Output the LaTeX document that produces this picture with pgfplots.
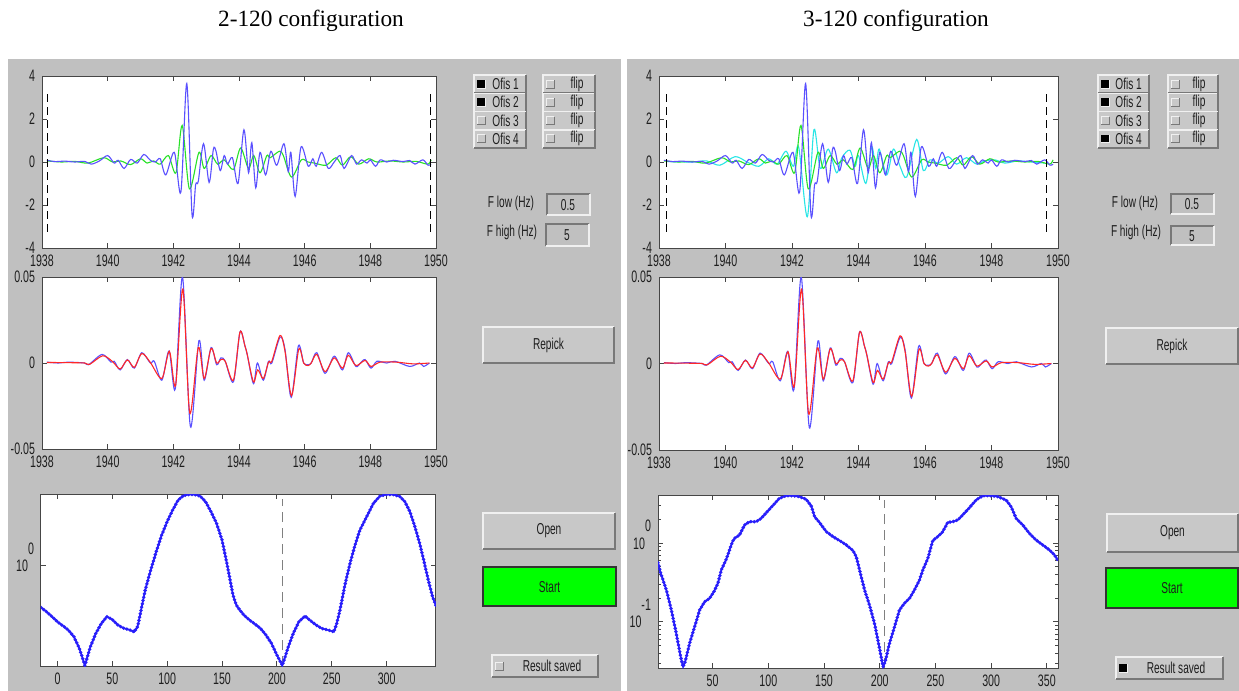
\documentclass[border=0pt]{standalone}
\usepackage{fontspec}
\usepackage{pgfplots}
\pgfplotsset{compat=1.18}
\usepackage{pgfplotstable}
\setmainfont{Liberation Serif}
\newfontfamily\guifont[FakeStretch=0.64]{Liberation Sans}
\newcommand\gs{\fontsize{7.9}{9}\selectfont\guifont}
\newcommand\ts{\fontsize{8.3}{9.5}\selectfont\guifont}
\definecolor{guibg}{RGB}{192,192,192}
\definecolor{btnface}{RGB}{200,200,200}
\definecolor{btnlight}{RGB}{240,240,240}
\definecolor{btndark}{RGB}{120,120,120}
\definecolor{axc}{RGB}{70,70,70}
\definecolor{txc}{RGB}{30,30,30}
\definecolor{tblue}{RGB}{90,80,255}
\definecolor{tgreen}{RGB}{40,225,40}
\definecolor{tcyan}{RGB}{40,230,230}
\definecolor{tred}{RGB}{255,40,40}
\definecolor{dblue}{RGB}{40,30,250}
\definecolor{startgreen}{RGB}{0,255,0}

\pgfplotstableread{
x y
1938.15 0.08
1938.40 0.02
1938.70 0.04
1939.00 0.00
1939.30 0.03
1939.50 -0.10
1939.75 0.05
1940.00 0.30
1940.20 -0.05
1940.32 0.08
1940.50 -0.30
1940.70 0.12
1940.90 -0.05
1941.10 0.35
1941.30 0.08
1941.45 0.00
1941.60 0.15
1941.77 -0.60
1942.03 0.45
1942.23 -1.40
1942.41 3.65
1942.57 -2.45
1942.68 -1.05
1942.76 -0.90
1942.92 0.85
1943.09 -0.95
1943.22 0.60
1943.30 0.50
1943.43 -0.40
1943.55 0.30
1943.65 -0.10
1943.80 0.20
1943.97 -1.00
1944.15 1.50
1944.29 -0.50
1944.39 0.90
1944.51 -1.20
1944.64 0.45
1944.81 -0.60
1944.97 0.50
1945.15 -0.15
1945.37 0.85
1945.50 -0.45
1945.58 0.45
1945.71 -1.60
1945.89 0.70
1946.11 -0.20
1946.25 0.15
1946.35 -0.20
1946.52 0.45
1946.72 -0.30
1946.90 0.00
1947.08 0.30
1947.20 -0.30
1947.43 0.30
1947.58 -0.10
1947.73 0.10
1947.90 -0.05
1948.00 0.10
1948.16 -0.20
1948.30 0.10
1948.50 0.00
1948.70 0.08
1949.00 0.02
1949.20 0.07
1949.36 -0.10
1949.60 0.10
1949.76 -0.15
1949.85 -0.10
}\bluetop

\pgfplotstableread{
x y
1938.15 0.05
1938.60 0.00
1939.00 0.03
1939.40 -0.05
1939.88 0.20
1940.15 0.00
1940.40 0.05
1940.70 -0.12
1941.00 0.15
1941.20 -0.05
1941.40 0.05
1941.60 -0.10
1941.85 0.30
1942.08 -0.50
1942.27 1.70
1942.49 -1.25
1942.78 0.45
1942.94 -0.30
1943.15 0.30
1943.35 -0.10
1943.55 0.10
1943.83 -0.35
1944.05 0.65
1944.29 -0.30
1944.45 0.30
1944.64 -0.50
1944.85 0.30
1944.95 0.20
1945.23 0.50
1945.35 0.30
1945.60 -0.70
1945.90 0.10
1946.10 0.00
1946.30 -0.05
1946.65 -0.15
1946.95 0.20
1947.15 -0.15
1947.40 0.25
1947.65 -0.10
1947.95 0.15
1948.20 0.00
1948.60 0.05
1949.00 0.00
1949.40 0.03
1949.75 -0.10
1949.85 0.10
}\greentop

\pgfplotstableread{
x y
1938.25 0.02
1939.00 0.00
1939.43 0.05
1939.83 -0.15
1940.29 0.25
1940.65 0.00
1941.00 -0.20
1941.30 0.15
1941.55 -0.10
1941.82 0.50
1942.04 -0.20
1942.20 0.70
1942.46 -2.55
1942.66 1.50
1942.85 -0.30
1943.09 0.60
1943.34 -0.50
1943.50 0.20
1943.74 0.55
1943.90 -0.20
1944.00 0.30
1944.22 -1.00
1944.40 0.70
1944.52 -0.30
1944.62 0.60
1944.85 -0.60
1945.05 0.60
1945.25 -0.20
1945.45 -0.70
1945.75 1.05
1945.95 -0.40
1946.15 0.10
1946.40 -0.05
1946.70 0.25
1946.95 -0.10
1947.25 0.20
1947.55 -0.10
1947.80 0.05
1948.10 0.10
1948.40 -0.05
1948.80 0.05
1949.20 0.00
1949.60 -0.05
}\cyantop

\pgfplotstableread{
x y
1938.15 0.0005
1938.50 0.0000
1938.80 0.0005
1939.30 0.0000
1939.42 -0.0010
1939.83 0.0050
1940.10 0.0005
1940.20 0.0010
1940.38 -0.0040
1940.60 0.0020
1940.81 -0.0030
1941.04 0.0060
1941.30 0.0000
1941.42 0.0010
1941.65 -0.0100
1941.87 0.0070
1942.06 -0.0150
1942.28 0.0500
1942.52 -0.0370
1942.78 0.0130
1942.94 -0.0100
1943.15 0.0090
1943.32 -0.0010
1943.45 0.0030
1943.58 0.0010
1943.83 -0.0110
1944.03 0.0180
1944.18 0.0100
1944.25 0.0050
1944.44 -0.0120
1944.56 0.0000
1944.74 -0.0100
1944.90 0.0010
1945.00 0.0000
1945.25 0.0150
1945.40 0.0080
1945.59 -0.0200
1945.81 0.0100
1945.97 0.0000
1946.10 -0.0010
1946.20 0.0000
1946.37 0.0060
1946.62 -0.0060
1946.90 0.0040
1947.15 -0.0040
1947.33 0.0060
1947.56 -0.0020
1947.70 0.0000
1947.84 0.0020
1948.02 -0.0030
1948.20 0.0010
1948.50 0.0000
1948.75 0.0010
1949.20 -0.0020
1949.50 0.0000
1949.62 -0.0020
1949.80 0.0000
}\bluemid

\pgfplotstableread{
x y
1938.15 0.0003
1938.80 0.0002
1939.30 0.0000
1939.45 -0.0008
1939.85 0.0042
1940.15 0.0008
1940.38 -0.0035
1940.60 0.0018
1940.81 -0.0025
1941.04 0.0055
1941.30 0.0003
1941.65 -0.0090
1941.88 0.0068
1942.07 -0.0130
1942.29 0.0430
1942.50 -0.0290
1942.76 0.0090
1942.94 -0.0090
1943.15 0.0085
1943.32 0.0000
1943.45 0.0020
1943.58 0.0010
1943.83 -0.0100
1944.03 0.0180
1944.18 0.0100
1944.25 0.0050
1944.44 -0.0110
1944.57 -0.0040
1944.74 -0.0090
1944.90 0.0005
1945.00 0.0010
1945.25 0.0160
1945.40 0.0070
1945.60 -0.0190
1945.82 0.0080
1945.97 0.0000
1946.10 -0.0015
1946.20 0.0000
1946.37 0.0050
1946.62 -0.0050
1946.90 0.0030
1947.15 -0.0030
1947.33 0.0045
1947.56 -0.0015
1947.84 0.0015
1948.02 -0.0020
1948.30 0.0005
1948.80 0.0005
1949.30 -0.0005
1949.80 0.0000
}\redmid

\pgfplotstableread{
x y
-15 -0.145
-10 -0.160
-5 -0.177
0 -0.195
5 -0.209
10 -0.224
15 -0.247
20 -0.288
25 -0.347
30 -0.282
35 -0.235
40 -0.201
45 -0.177
50 -0.187
55 -0.206
60 -0.217
65 -0.222
70 -0.230
73 -0.212
75 -0.177
80 -0.084
85 -0.015
90 0.049
95 0.107
100 0.154
105 0.194
110 0.229
115 0.245
120 0.248
125 0.248
130 0.243
135 0.223
140 0.188
145 0.148
150 0.090
155 -0.003
160 -0.102
163 -0.137
165 -0.148
170 -0.172
175 -0.189
180 -0.203
185 -0.218
190 -0.241
195 -0.270
200 -0.311
205 -0.347
210.4 -0.282
215 -0.235
220 -0.195
225.6 -0.175
230 -0.189
235.6 -0.206
240.8 -0.218
246.9 -0.224
252 -0.230
254.5 -0.201
257.5 -0.154
262 -0.067
266.6 0.008
271.2 0.072
275.7 0.125
281.8 0.171
288 0.218
294 0.243
300 0.248
306 0.248
312 0.241
316.7 0.223
321.3 0.188
325.8 0.136
329.7 0.084
333.4 0.026
338 -0.050
341.9 -0.108
345 -0.140
}\botleft

\pgfplotstableread{
x y
1 -0.246
3 -0.360
8.5 -0.593
13 -0.847
17.4 -1.144
21.3 -1.440
23.5 -1.570
25.5 -1.500
29.4 -1.270
33.9 -1.060
38.4 -0.847
42.9 -0.742
47.3 -0.700
51.2 -0.614
54.8 -0.508
57.8 -0.339
62.3 -0.203
67.8 0.021
69.8 0.064
74.2 0.106
78.7 0.233
83.2 0.275
89.2 0.275
93.7 0.318
98.2 0.390
104 0.479
110 0.572
116 0.605
122 0.605
128 0.593
134 0.559
138.5 0.475
141.5 0.339
146 0.263
152 0.148
158 0.085
164 0.034
170 -0.021
176 -0.093
178.9 -0.169
181.9 -0.339
186.4 -0.593
190.8 -0.784
195.3 -1.017
199.8 -1.335
203 -1.570
205 -1.500
208.8 -1.270
213.3 -1.060
217.7 -0.847
222.2 -0.763
226.7 -0.700
231.2 -0.593
235.7 -0.466
238.7 -0.339
243.2 -0.191
247.6 0.034
252.1 0.085
256.6 0.148
261.1 0.267
265.6 0.275
270 0.297
274.5 0.360
280.5 0.453
286.5 0.550
292.5 0.605
300 0.605
306 0.593
313.4 0.550
317.9 0.466
322.4 0.318
328.4 0.233
334.3 0.127
340.3 0.042
346.3 -0.021
352.3 -0.085
356.8 -0.148
360 -0.220
}\botright

\pgfplotsset{
  mat/.style={scale only axis, anchor=north west,
    axis background/.style={fill=white},
    axis line style={draw=axc, line width=0.5pt},
    every tick/.style={draw=axc, line width=0.5pt},
    tick align=inside, major tick length=2.5pt, minor tick length=1.5pt,
    ticklabel style={font=\ts, text=txc},
    scaled ticks=false,
    clip=true},
  topax/.style={mat, xmin=1938, xmax=1950, ymin=-4, ymax=4,
    xtick={1938,1940,1942,1944,1946,1948,1950},
    xticklabels={1938,1940,1942,1944,1946,1948,1950},
    ytick={-4,-2,0,2,4}, yticklabels={-4,-2,0,2,4}},
  midax/.style={mat, xmin=1938, xmax=1950, ymin=-0.05, ymax=0.05,
    xtick={1938,1940,1942,1944,1946,1948,1950},
    xticklabels={1938,1940,1942,1944,1946,1948,1950},
    ytick={-0.05,0,0.05}, yticklabels={-0.05,0,0.05}},
  trace/.style={smooth, no marks, line width=0.55pt},
  dotline/.style={dblue, no marks, line width=0.8pt},
  dots/.style={dblue, no marks, line width=1.9pt, line cap=round, dash pattern=on 0pt off 1.7pt}
}

\newcommand\raised[4]{%
  \fill[btnface] (#1,#2) rectangle (#3,#4);
  \draw[btnlight,line width=0.7pt] (#1,#4) -- (#1,#2) -- (#3,#2);
  \draw[btndark,line width=0.7pt] (#1,#4) -- (#3,#4) -- (#3,#2);}
\newcommand\sunken[4]{%
  \fill[guibg] (#1,#2) rectangle (#3,#4);
  \draw[btndark,line width=0.7pt] (#1,#4) -- (#1,#2) -- (#3,#2);
  \draw[btnlight,line width=0.7pt] (#1,#4) -- (#3,#4) -- (#3,#2);}
\newcommand\chkoff[2]{%
  \fill[btnface] (#1,#2-4) rectangle (#1+8,#2+4);
  \draw[btnlight,line width=0.5pt] (#1,#2+4) -- (#1,#2-4) -- (#1+8,#2-4);
  \draw[btndark,line width=0.5pt] (#1,#2+4) -- (#1+8,#2+4) -- (#1+8,#2-4);}
\newcommand\chkon[2]{%
  \fill[black] (#1,#2-4) rectangle (#1+8,#2+4);
  \draw[btnlight,line width=0.5pt] (#1+8,#2-4) -- (#1+8,#2+4) -- (#1,#2+4);}

\begin{document}
\begin{tikzpicture}[x=0.5pt,y=-0.5pt]
\useasboundingbox (0,0) rectangle (1239,691);
\fill[white] (0,0) rectangle (1239,691);
\fill[guibg] (8,59) rectangle (621,691);
\fill[guibg] (627,59) rectangle (1239,691);
\node[anchor=base, font=\fontsize{11.65}{14}\selectfont] at (311,26.5) {2-120 configuration};
\node[anchor=base, font=\fontsize{11.65}{14}\selectfont] at (896,26.5) {3-120 configuration};

% ---------------- left panel axes
\begin{axis}[topax, at={(21pt,-38pt)}, width=197pt, height=86pt]
\addplot[trace, tgreen] table {\greentop};
\addplot[trace, tblue] table {\bluetop};
\addplot[black, line width=0.5pt, dash pattern=on 4pt off 2.5pt] coordinates {(1938.18,-3.25) (1938.18,3.25)};
\addplot[black, line width=0.5pt, dash pattern=on 4pt off 2.5pt] coordinates {(1949.82,-3.25) (1949.82,3.25)};
\end{axis}
\begin{axis}[midax, at={(21pt,-138.5pt)}, width=197pt, height=86pt]
\addplot[trace, tblue] table {\bluemid};
\addplot[trace, tred] table {\redmid};
\end{axis}
\begin{axis}[mat, at={(20.5pt,-247pt)}, width=197.5pt, height=86pt,
  xmin=-15, xmax=345, ymin=-0.349, ymax=0.25,
  xtick={0,50,100,150,200,250,300}, xticklabels={0,50,100,150,200,250,300},
  ytick={0}, yticklabels={10\smash{\raisebox{1.05em}{0}}}]
\addplot[gray, line width=0.6pt, dash pattern=on 5pt off 3pt] coordinates {(205,-0.349) (205,0.231)};
\addplot[dotline] table {\botleft};
\addplot[dots] table {\botleft};
\end{axis}

% ---------------- right panel axes
\begin{axis}[topax, at={(329.5pt,-38pt)}, width=199.5pt, height=86pt]
\addplot[trace, tcyan] table {\cyantop};
\addplot[trace, tgreen] table {\greentop};
\addplot[trace, tblue] table {\bluetop};
\addplot[black, line width=0.5pt, dash pattern=on 4pt off 2.5pt] coordinates {(1938.23,-3.25) (1938.23,3.25)};
\addplot[black, line width=0.5pt, dash pattern=on 4pt off 2.5pt] coordinates {(1949.64,-3.25) (1949.64,3.25)};
\end{axis}
\begin{axis}[midax, at={(329.5pt,-138.5pt)}, width=199.5pt, height=86.5pt]
\addplot[trace, tblue] table {\bluemid};
\addplot[trace, tred] table {\redmid};
\end{axis}
\begin{axis}[mat, at={(329pt,-247.5pt)}, width=200pt, height=86.5pt,
  xmin=1, xmax=360, ymin=-1.585, ymax=0.614,
  xtick={50,100,150,200,250,300,350}, xticklabels={50,100,150,200,250,300,350},
  ytick={-1,0}, yticklabels={10\smash{\raisebox{1.05em}{-1}},10\smash{\raisebox{1.05em}{0}}},
  minor ytick={-1.523,-1.398,-1.301,-1.222,-1.155,-1.097,-1.046,-0.699,-0.523,-0.398,-0.301,-0.222,-0.155,-0.097,-0.046,0.301,0.477,0.602}]
\addplot[gray, line width=0.6pt, dash pattern=on 5pt off 3pt] coordinates {(204,-1.585) (204,0.55)};
\addplot[dotline] table {\botright};
\addplot[dots] table {\botright};
\end{axis}

% ---------------- left panel controls
\foreach \i/\c in {1/1,2/1,3/0,4/0}{
  \pgfmathsetmacro\yt{75+(\i-1)*18.3}
  \pgfmathsetmacro\yb{\yt+18}
  \pgfmathsetmacro\ym{\yt+9}
  \raised{474}{\yt}{526}{\yb}
  \raised{543}{\yt}{595}{\yb}
  \ifnum\c=1 \chkon{477}{\ym}\else\chkoff{477}{\ym}\fi
  \chkoff{546}{\ym}
  \node[font=\gs, text=txc, anchor=west, inner sep=0] at (492,\ym) {Ofis \i};
  \node[font=\gs, text=txc, inner sep=0] at (577,\ym) {flip};
}
\node[font=\gs, text=txc, inner sep=0] at (511,203) {F low (Hz)};
\node[font=\gs, text=txc, inner sep=0] at (512,232) {F high (Hz)};
\sunken{547}{194}{590}{215}
\sunken{546}{224}{589}{246}
\node[font=\gs, text=txc, inner sep=0] at (568,205) {0.5};
\node[font=\gs, text=txc, inner sep=0] at (567,235) {5};
\raised{483}{327}{614}{363}
\node[font=\gs, text=txc] at (548.5,345) {Repick};
\raised{483}{513}{615}{549}
\node[font=\gs, text=txc] at (549,531) {Open};
\fill[startgreen] (483,567) rectangle (616,606);
\draw[black!80, line width=0.7pt] (483,567) rectangle (616,606);
\node[font=\gs, text=txc] at (549.5,587) {Start};
\raised{492}{655}{598}{677}
\chkoff{495}{666}
\node[font=\gs, text=txc] at (552,666) {Result saved};

% ---------------- right panel controls
\foreach \i/\c in {1/1,2/1,3/0,4/1}{
  \pgfmathsetmacro\yt{75+(\i-1)*18.3}
  \pgfmathsetmacro\yb{\yt+18}
  \pgfmathsetmacro\ym{\yt+9}
  \raised{1098}{\yt}{1149}{\yb}
  \raised{1168}{\yt}{1218}{\yb}
  \ifnum\c=1 \chkon{1101}{\ym}\else\chkoff{1101}{\ym}\fi
  \chkoff{1171}{\ym}
  \node[font=\gs, text=txc, anchor=west, inner sep=0] at (1115,\ym) {Ofis \i};
  \node[font=\gs, text=txc, inner sep=0] at (1199,\ym) {flip};
}
\node[font=\gs, text=txc, inner sep=0] at (1135,203) {F low (Hz)};
\node[font=\gs, text=txc, inner sep=0] at (1136,232) {F high (Hz)};
\sunken{1171}{194}{1214}{214}
\sunken{1171}{226}{1214}{245}
\node[font=\gs, text=txc, inner sep=0] at (1192,204) {0.5};
\node[font=\gs, text=txc, inner sep=0] at (1192,236) {5};
\raised{1106}{328}{1238}{364}
\node[font=\gs, text=txc] at (1172,346) {Repick};
\raised{1107}{514}{1238}{552}
\node[font=\gs, text=txc] at (1172.5,533) {Open};
\fill[startgreen] (1106,568) rectangle (1238,608);
\draw[black!80, line width=0.7pt] (1106,568) rectangle (1238,608);
\node[font=\gs, text=txc] at (1172,588) {Start};
\raised{1116}{657}{1223}{679}
\chkon{1119}{668}
\node[font=\gs, text=txc] at (1176,668) {Result saved};
\end{tikzpicture}
\end{document}
